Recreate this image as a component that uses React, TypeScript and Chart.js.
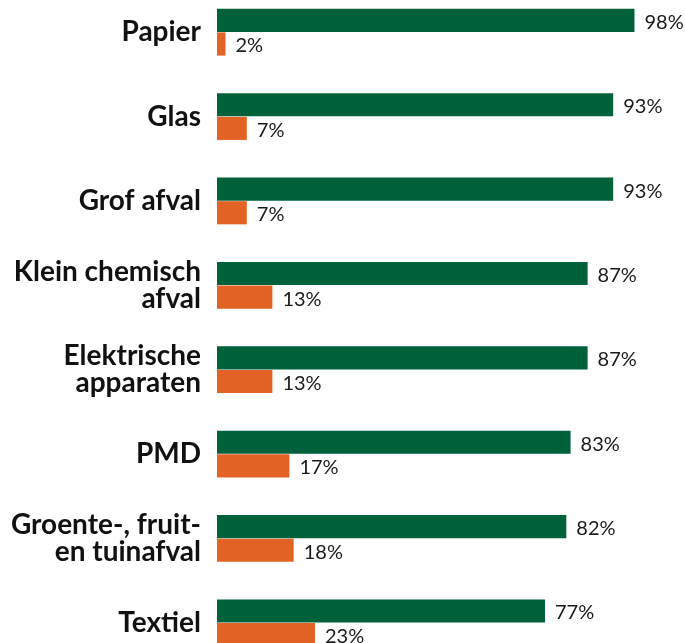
import React, { useEffect, useRef } from "react";
import { Chart, registerables } from "chart.js";

Chart.register(...registerables);

const categories: (string | string[])[] = [
  "Papier",
  "Glas",
  "Grof afval",
  ["Klein chemisch", "afval"],
  ["Elektrische", "apparaten"],
  "PMD",
  ["Groente-, fruit-", "en tuinafval"],
  "Textiel",
];
const greenValues = [98, 93, 93, 87, 87, 83, 82, 77];
const orangeValues = [2, 7, 7, 13, 13, 17, 18, 23];

const GREEN = "#00613b";
const ORANGE = "#e36327";

const valueLabels = {
  id: "valueLabels",
  afterDatasetsDraw(chart: any) {
    const ctx = chart.ctx;
    ctx.save();
    ctx.font = "400 20px Lato";
    ctx.fillStyle = "#1a1a1a";
    ctx.textAlign = "left";
    ctx.textBaseline = "middle";
    chart.data.datasets.forEach((ds: any, i: number) => {
      const meta = chart.getDatasetMeta(i);
      meta.data.forEach((el: any, j: number) => {
        ctx.fillText(ds.data[j] + "%", el.x + 10, el.y + 2);
      });
    });
    ctx.restore();
  },
};

export default function App() {
  const ref = useRef<HTMLCanvasElement>(null);
  useEffect(() => {
    if (!ref.current) return;
    const chart = new Chart(ref.current, {
      type: "bar",
      data: {
        labels: categories,
        datasets: [
          {
            data: greenValues,
            backgroundColor: GREEN,
            categoryPercentage: 0.56,
            barPercentage: 0.98,
          },
          {
            data: orangeValues,
            backgroundColor: ORANGE,
            categoryPercentage: 0.56,
            barPercentage: 0.98,
          },
        ],
      },
      options: {
        indexAxis: "y",
        responsive: false,
        animation: false,
        layout: { padding: { left: 0, right: 42, top: 0, bottom: 0 } },
        plugins: {
          legend: { display: false },
          tooltip: { enabled: false },
        },
        scales: {
          x: {
            display: false,
            min: 0,
            max: 100,
          },
          y: {
            grid: { display: false, drawTicks: false },
            border: { display: false },
            ticks: {
              padding: 16,
              color: "#111111",
              font: { family: "Lato", weight: "bold", size: 28, lineHeight: 0.95 },
            },
            afterFit(scale: any) {
              scale.width = 217;
              scale.paddingTop = 0;
              scale.paddingBottom = 0;
            },
          },
        },
      },
      plugins: [valueLabels],
    });
    return () => chart.destroy();
  }, []);
  return (
    <div
      style={{
        position: "fixed",
        left: 0,
        top: 0,
        width: 685,
        height: 643,
        overflow: "hidden",
        background: "#ffffff",
      }}
    >
      <canvas
        ref={ref}
        width={685}
        height={675}
        style={{ position: "absolute", left: 0, top: -10, width: 685, height: 675 }}
      />
    </div>
  );
}
